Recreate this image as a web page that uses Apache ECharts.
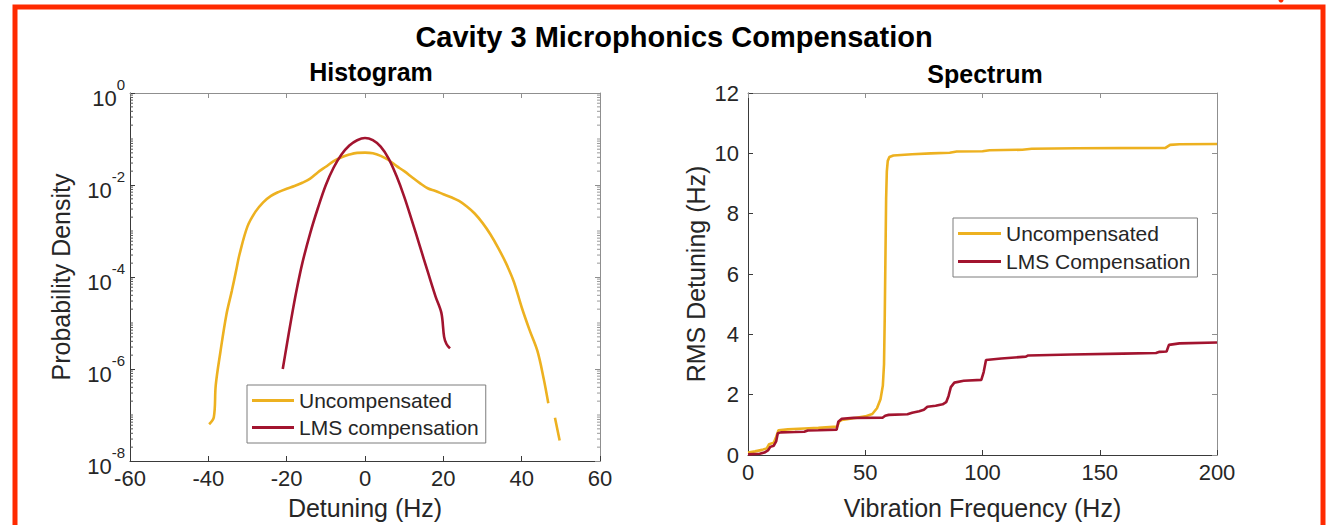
<!DOCTYPE html>
<html>
<head>
<meta charset="utf-8">
<title>Cavity 3 Microphonics Compensation</title>
<script src="https://cdn.jsdelivr.net/npm/echarts@6/dist/echarts.min.js"></script>
<style>
  html, body { margin: 0; padding: 0; background: #ffffff; }
  #chart { width: 1330px; height: 525px; }
</style>
</head>
<body>
<div id="chart"></div>
<script>
// ---- Histogram: probability density of detuning (Hz) ----
const uncompDetuning = [-39.8, -38.6, -38.1, -36.9, -35.4, -34, -33, -32, -30, -28, -26, -24, -22, -20, -18, -16, -14, -12, -10, -8, -6, -4, -2, 0, 2, 4, 6, 8, 10, 12, 14, 16, 18, 20, 22, 24, 26, 28, 30, 32, 34, 36, 38, 40, 42, 44, 45.6, 46.8, 47.6, 48.5, 49.7];
const uncompDensity = [6.3e-8, 8.9e-8, 4.5e-7, 2.4e-6, 1.5e-5, 5.0e-5, 1.26e-4, 3.2e-4, 1.26e-3, 2.6e-3, 4.2e-3, 5.8e-3, 7.1e-3, 8.3e-3, 9.5e-3, 1.12e-2, 1.38e-2, 1.9e-2, 2.5e-2, 3.3e-2, 4.0e-2, 4.6e-2, 5.0e-2, 5.05e-2, 4.9e-2, 4.3e-2, 3.5e-2, 2.6e-2, 2.0e-2, 1.48e-2, 1.1e-2, 8.5e-3, 7.4e-3, 6.3e-3, 5.4e-3, 4.5e-3, 3.4e-3, 2.4e-3, 1.5e-3, 8.5e-4, 4.3e-4, 2.0e-4, 7.9e-5, 2.2e-5, 7.1e-6, 2.5e-6, 6.3e-7, 1.8e-7, null, 8.7e-8, 2.8e-8];

const lmsDetuning = [-21, -20, -18.8, -17.5, -16, -14, -12, -10, -8, -6, -4, -2, 0, 2, 4, 6, 8, 10, 12, 14, 16, 18, 19.5, 20.2, 20.8, 21.7];
const lmsDensity = [1.0e-6, 3.2e-6, 1.26e-5, 5.0e-5, 2.0e-4, 8.9e-4, 3.2e-3, 1.0e-2, 2.4e-2, 4.6e-2, 7.2e-2, 9.4e-2, 1.05e-1, 9.4e-2, 6.8e-2, 3.8e-2, 1.6e-2, 5.6e-3, 1.66e-3, 4.7e-4, 1.32e-4, 3.8e-5, 1.66e-5, 5.0e-6, 3.5e-6, 2.8e-6];

// ---- Spectrum: cumulative RMS detuning (Hz) vs vibration frequency (Hz) ----
const uncompFreq = [0, 3, 6, 8, 9, 11, 12, 13, 17, 24, 30, 38, 39, 40, 45, 50, 53, 55, 56.5, 57.5, 58, 58.3, 58.6, 58.9, 59.2, 59.6, 60.3, 62, 70, 78, 86, 89, 100, 103, 117, 121, 140, 178, 180, 184, 200];
const uncompRms = [0.08, 0.12, 0.17, 0.22, 0.36, 0.41, 0.6, 0.82, 0.85, 0.88, 0.9, 0.94, 1.12, 1.16, 1.22, 1.28, 1.36, 1.55, 1.85, 2.3, 3.0, 4.5, 6.5, 8.5, 9.4, 9.75, 9.88, 9.93, 9.97, 10.0, 10.02, 10.06, 10.07, 10.1, 10.12, 10.15, 10.17, 10.18, 10.28, 10.3, 10.31];

const lmsFreq = [0, 5, 7, 8.5, 9.5, 11, 12, 12.7, 14, 20, 24, 25.5, 30, 37.8, 38.5, 40, 45, 57.5, 58.5, 60, 68, 70, 73, 75, 76.5, 80, 83, 84.5, 85.5, 86.5, 88, 92, 99.5, 100.5, 101.5, 108, 118.5, 119.5, 138, 160, 174, 175.5, 178.5, 179.5, 184, 200];
const lmsRms = [0.02, 0.04, 0.08, 0.15, 0.27, 0.31, 0.45, 0.72, 0.75, 0.76, 0.77, 0.81, 0.82, 0.84, 1.1, 1.2, 1.23, 1.24, 1.3, 1.33, 1.35, 1.4, 1.45, 1.5, 1.6, 1.63, 1.68, 1.75, 1.95, 2.25, 2.4, 2.46, 2.49, 2.75, 3.15, 3.2, 3.26, 3.3, 3.33, 3.36, 3.38, 3.42, 3.43, 3.65, 3.7, 3.73];

// Axis ranges and tick settings
const detuningTicks = { min: -60, max: 60, interval: 20 };
const densityRange = { min: 1e-8, max: 1 };
const freqTicks = { min: 0, max: 200, interval: 50 };
const rmsTicks = { min: 0, max: 12, interval: 2 };

const seriesNames = ['Uncompensated', 'LMS compensation', 'LMS Compensation'];
const COLOR_UNCOMP = '#EDB120';
const COLOR_LMS = '#A2142F';
const INK = '#262626';
const FONT = '"Liberation Sans", Arial, Helvetica, sans-serif';

// Minor ticks of the log axis: k * 10^d between labelled decades
const minorTickValues = [];
for (let d = -8; d < 0; d++) {
  for (let k = 1; k <= 9; k++) {
    if (k === 1 && d % 2 === 0) continue;
    minorTickValues.push(k * Math.pow(10, d));
  }
}

function pairs(xs, ys) {
  return xs.map((x, i) => [x, ys[i] === null ? '-' : ys[i]]);
}

const tickLabel = { fontSize: 22, color: INK, fontFamily: FONT };
const axisName = { fontSize: 25, color: INK, fontFamily: FONT };
const legendText = { fontSize: 21, color: INK, fontFamily: FONT };

function mainAxisLine() {
  return { show: true, onZero: false, lineStyle: { color: '#3a3a3a', width: 1 } };
}
function boxAxisLine() {
  return { show: true, onZero: false, lineStyle: { color: '#8f8f8f', width: 1 } };
}
const mainTick = { inside: true, length: 5, lineStyle: { color: '#3a3a3a' } };
const boxTick = { inside: true, length: 5, lineStyle: { color: '#8f8f8f' } };

const option = {
  animation: false,
  backgroundColor: '#ffffff',
  textStyle: { fontFamily: FONT },
  title: [
    { text: 'Cavity 3 Microphonics Compensation', left: 669, top: 17, textAlign: 'center',
      textStyle: { fontSize: 29, fontWeight: 'bold', color: '#000', fontFamily: FONT } },
    { text: 'Histogram', left: 366, top: 54, textAlign: 'center',
      textStyle: { fontSize: 25, fontWeight: 'bold', color: '#000', fontFamily: FONT } },
    { text: 'Spectrum', left: 980, top: 56, textAlign: 'center',
      textStyle: { fontSize: 25, fontWeight: 'bold', color: '#000', fontFamily: FONT } }
  ],
  grid: [
    { left: 130, top: 93, width: 470, height: 369 },
    { left: 748, top: 93, width: 469, height: 369 }
  ],
  legend: [
    { data: [seriesNames[0], seriesNames[1]], left: 247, top: 385, orient: 'vertical',
      icon: 'rect', itemWidth: 42, itemHeight: 3, itemGap: 6,
      padding: [5, 7, 5, 5], borderColor: '#7d7d7d', borderWidth: 1, backgroundColor: '#fff',
      textStyle: legendText },
    { data: [seriesNames[0], seriesNames[2]], left: 953, top: 218, orient: 'vertical',
      icon: 'rect', itemWidth: 43, itemHeight: 3, itemGap: 7,
      padding: [5, 7, 5, 5], borderColor: '#7d7d7d', borderWidth: 1, backgroundColor: '#fff',
      textStyle: legendText }
  ],
  xAxis: [
    { gridIndex: 0, type: 'value', ...detuningTicks, position: 'bottom',
      name: 'Detuning (Hz)', nameLocation: 'middle', nameGap: 34, nameTextStyle: axisName,
      axisLine: mainAxisLine(), axisTick: mainTick,
      axisLabel: { ...tickLabel, margin: 6 }, splitLine: { show: false } },
    { gridIndex: 0, type: 'value', ...detuningTicks, position: 'top',
      axisLine: boxAxisLine(), axisTick: boxTick,
      axisLabel: { show: false }, splitLine: { show: false } },
    { gridIndex: 1, type: 'value', ...freqTicks, position: 'bottom',
      name: 'Vibration Frequency (Hz)', nameLocation: 'middle', nameGap: 40, nameTextStyle: axisName,
      axisLine: mainAxisLine(), axisTick: mainTick,
      axisLabel: { ...tickLabel, margin: 6 }, splitLine: { show: false } },
    { gridIndex: 1, type: 'value', ...freqTicks, position: 'top',
      axisLine: boxAxisLine(), axisTick: boxTick,
      axisLabel: { show: false }, splitLine: { show: false } }
  ],
  yAxis: [
    { gridIndex: 0, type: 'log', logBase: 100, ...densityRange, splitNumber: 4, position: 'left',
      name: 'Probability Density', nameLocation: 'middle', nameGap: 57, nameTextStyle: axisName,
      axisLine: mainAxisLine(), axisTick: mainTick,
      axisLabel: {
        margin: 5,
        formatter: v => '{b|10}{e|' + Math.round(Math.log10(v)) + '}',
        rich: {
          b: { fontSize: 22, color: INK, fontFamily: FONT, lineHeight: 32, verticalAlign: 'bottom' },
          e: { fontSize: 15, color: INK, fontFamily: FONT, lineHeight: 15, verticalAlign: 'top' }
        }
      },
      splitLine: { show: false } },
    { gridIndex: 0, type: 'log', logBase: 100, ...densityRange, splitNumber: 4, position: 'right',
      axisLine: boxAxisLine(), axisTick: boxTick,
      axisLabel: { show: false }, splitLine: { show: false } },
    { gridIndex: 1, type: 'value', ...rmsTicks, position: 'left',
      name: 'RMS Detuning (Hz)', nameLocation: 'middle', nameGap: 40, nameTextStyle: axisName,
      axisLine: mainAxisLine(), axisTick: mainTick,
      axisLabel: { ...tickLabel, margin: 9 }, splitLine: { show: false } },
    { gridIndex: 1, type: 'value', ...rmsTicks, position: 'right',
      axisLine: boxAxisLine(), axisTick: boxTick,
      axisLabel: { show: false }, splitLine: { show: false } }
  ],
  series: [
    { name: seriesNames[0], type: 'line', xAxisIndex: 0, yAxisIndex: 0,
      data: pairs(uncompDetuning, uncompDensity), showSymbol: false, smooth: 0.35, connectNulls: false,
      lineStyle: { color: COLOR_UNCOMP, width: 2.6 }, itemStyle: { color: COLOR_UNCOMP }, z: 3 },
    { name: seriesNames[1], type: 'line', xAxisIndex: 0, yAxisIndex: 0,
      data: pairs(lmsDetuning, lmsDensity), showSymbol: false, smooth: 0.35,
      lineStyle: { color: COLOR_LMS, width: 2.6 }, itemStyle: { color: COLOR_LMS }, z: 4 },
    { name: 'log minor ticks', type: 'custom', xAxisIndex: 0, yAxisIndex: 0, silent: true, clip: false,
      data: minorTickValues.map(v => [0, v]),
      renderItem: (params, api) => {
        const cs = params.coordSys;
        const y = api.coord([0, api.value(1)])[1];
        return { type: 'group', children: [
          { type: 'line', shape: { x1: cs.x, y1: y, x2: cs.x + 3, y2: y }, style: { stroke: '#555', lineWidth: 1 } },
          { type: 'line', shape: { x1: cs.x + cs.width - 3, y1: y, x2: cs.x + cs.width, y2: y }, style: { stroke: '#999', lineWidth: 1 } }
        ] };
      } },
    { name: seriesNames[0], type: 'line', xAxisIndex: 2, yAxisIndex: 2,
      data: pairs(uncompFreq, uncompRms), showSymbol: false,
      lineStyle: { color: COLOR_UNCOMP, width: 2.6 }, itemStyle: { color: COLOR_UNCOMP }, z: 3 },
    { name: seriesNames[2], type: 'line', xAxisIndex: 2, yAxisIndex: 2,
      data: pairs(lmsFreq, lmsRms), showSymbol: false,
      lineStyle: { color: COLOR_LMS, width: 2.6 }, itemStyle: { color: COLOR_LMS }, z: 4 }
  ],
  graphic: [
    { type: 'rect', silent: true, z: 100,
      shape: { x: 15, y: 7, width: 1308, height: 700 },
      style: { fill: 'none', stroke: '#ff2a00', lineWidth: 5 } },
    { type: 'circle', silent: true, z: 100,
      shape: { cx: 1281, cy: 0, r: 2.5 },
      style: { fill: '#ff2a00' } }
  ]
};

const chart = echarts.init(document.getElementById('chart'), null, { renderer: 'svg' });
chart.setOption(option);
</script>
</body>
</html>
